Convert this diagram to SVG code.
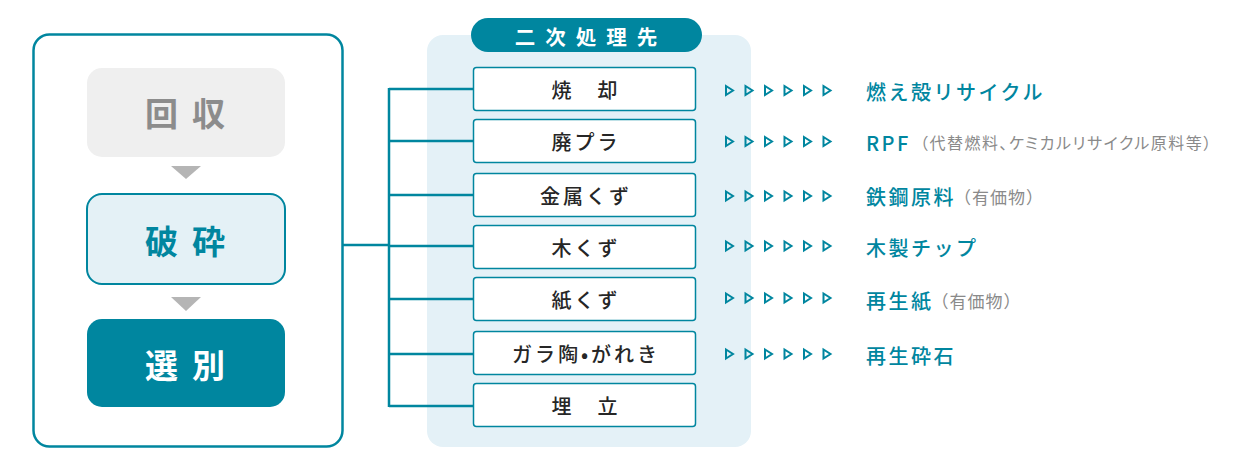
<svg xmlns="http://www.w3.org/2000/svg" width="1240" height="462" viewBox="0 0 1240 462">
<defs>
<style>
text{font-family:"Noto Sans CJK JP","Noto Sans",sans-serif;}
.step{font-size:33px;font-weight:bold;letter-spacing:14px;text-anchor:middle;dominant-baseline:central;}
.box{fill:#fff;stroke:#00869f;stroke-width:1.5;}
.bt{font-size:20px;fill:#262626;letter-spacing:3px;text-anchor:middle;dominant-baseline:central;font-weight:500;}
.res{font-size:20px;fill:#00869f;letter-spacing:2.5px;dominant-baseline:central;font-weight:500;}
.note{font-size:16px;fill:#8a8a8a;letter-spacing:1.5px;font-weight:400;font-feature-settings:"palt";}
.note2{font-size:17px;fill:#8a8a8a;letter-spacing:1px;font-weight:400;}
.tri{fill:none;stroke:#00869f;stroke-width:2;stroke-linejoin:miter;}
.conn{fill:none;stroke:#00869f;stroke-width:2.5;}
</style>
<g id="tris">
<polygon class="tri" points="0,-4.5 7,0 0,4.5"/>
<polygon class="tri" points="19.5,-4.5 26.5,0 19.5,4.5"/>
<polygon class="tri" points="39,-4.5 46,0 39,4.5"/>
<polygon class="tri" points="58.5,-4.5 65.5,0 58.5,4.5"/>
<polygon class="tri" points="78,-4.5 85,0 78,4.5"/>
<polygon class="tri" points="97.5,-4.5 104.5,0 97.5,4.5"/>
</g>
</defs>
<rect width="1240" height="462" fill="#fff"/>

<g id="process">
<rect x="33.5" y="34.5" width="309" height="412" rx="16" fill="#fff" stroke="#00869f" stroke-width="2.5"/>
<g id="n-kaishu">
<rect x="87" y="68" width="198" height="89" rx="15" fill="#efefef"/>
<text class="step" x="192" y="112" fill="#8c8c8c">回収</text>
</g>
<polygon points="171,166 201,166 186,179" fill="#b5b5b5"/>
<g id="n-hasai">
<rect x="87" y="194" width="198" height="90" rx="15" fill="#e4f1f6" stroke="#00869f" stroke-width="2"/>
<text class="step" x="192" y="240" fill="#00869f">破砕</text>
</g>
<polygon points="171,297 201,297 186,311" fill="#b5b5b5"/>
<g id="n-senbetsu">
<rect x="87" y="319" width="198" height="88" rx="15" fill="#00869f"/>
<text class="step" x="192" y="364" fill="#fff">選別</text>
</g>
</g>

<g id="panel">
<rect x="427" y="35" width="324" height="412" rx="16" fill="#e4f1f7"/>
<rect x="471" y="18" width="231" height="34" rx="17" fill="#00869f"/>
<text x="591" y="36" font-size="20.5" font-weight="bold" fill="#fff" letter-spacing="10" text-anchor="middle" dominant-baseline="central">二次処理先</text>
</g>

<g id="connectors">
<path class="conn" d="M343,245 H389 M389,88 V407 M389,89 H473 M389,141 H473 M389,195 H473 M389,246 H473 M389,299 H473 M389,354 H473 M389,406 H473"/>
</g>

<g id="b1"><rect class="box" x="473.5" y="67.5" width="222" height="43" rx="3"/><text class="bt" x="586" y="89">焼　却</text></g>
<g id="b2"><rect class="box" x="473.5" y="119.5" width="222" height="43" rx="3"/><text class="bt" x="586" y="141">廃プラ</text></g>
<g id="b3"><rect class="box" x="473.5" y="173.5" width="222" height="43" rx="3"/><text class="bt" x="586" y="195">金属くず</text></g>
<g id="b4"><rect class="box" x="473.5" y="225.5" width="222" height="43" rx="3"/><text class="bt" x="586" y="247">木くず</text></g>
<g id="b5"><rect class="box" x="473.5" y="277.5" width="222" height="43" rx="3"/><text class="bt" x="586" y="299">紙くず</text></g>
<g id="b6"><rect class="box" x="473.5" y="331.5" width="222" height="43" rx="3"/><text class="bt" x="586" y="353" letter-spacing="1">ガラ陶•がれき</text></g>
<g id="b7"><rect class="box" x="473.5" y="383.5" width="222" height="43" rx="3"/><text class="bt" x="586" y="405">埋　立</text></g>

<g id="arrows">
<use href="#tris" x="726" y="90.5"/>
<use href="#tris" x="726" y="141.5"/>
<use href="#tris" x="726" y="196"/>
<use href="#tris" x="726" y="246"/>
<use href="#tris" x="726" y="298"/>
<use href="#tris" x="726" y="354"/>
</g>

<g id="r1"><text class="res" x="866" y="91" letter-spacing="1.5">燃え殻リサイクル</text></g>
<g id="r2"><text class="res" x="866" y="142" letter-spacing="6">RPF<tspan class="note" dx="9">（代替燃料、ケミカルリサイクル原料等）</tspan></text></g>
<g id="r3"><text class="res" x="866" y="196" letter-spacing="3">鉄鋼原料<tspan class="note2" dx="-2">（有価物）</tspan></text></g>
<g id="r4"><text class="res" x="866" y="247" letter-spacing="3">木製チップ</text></g>
<g id="r5"><text class="res" x="866" y="300" letter-spacing="3">再生紙<tspan class="note2" dx="-2">（有価物）</tspan></text></g>
<g id="r6"><text class="res" x="866" y="355" letter-spacing="2">再生砕石</text></g>
</svg>
